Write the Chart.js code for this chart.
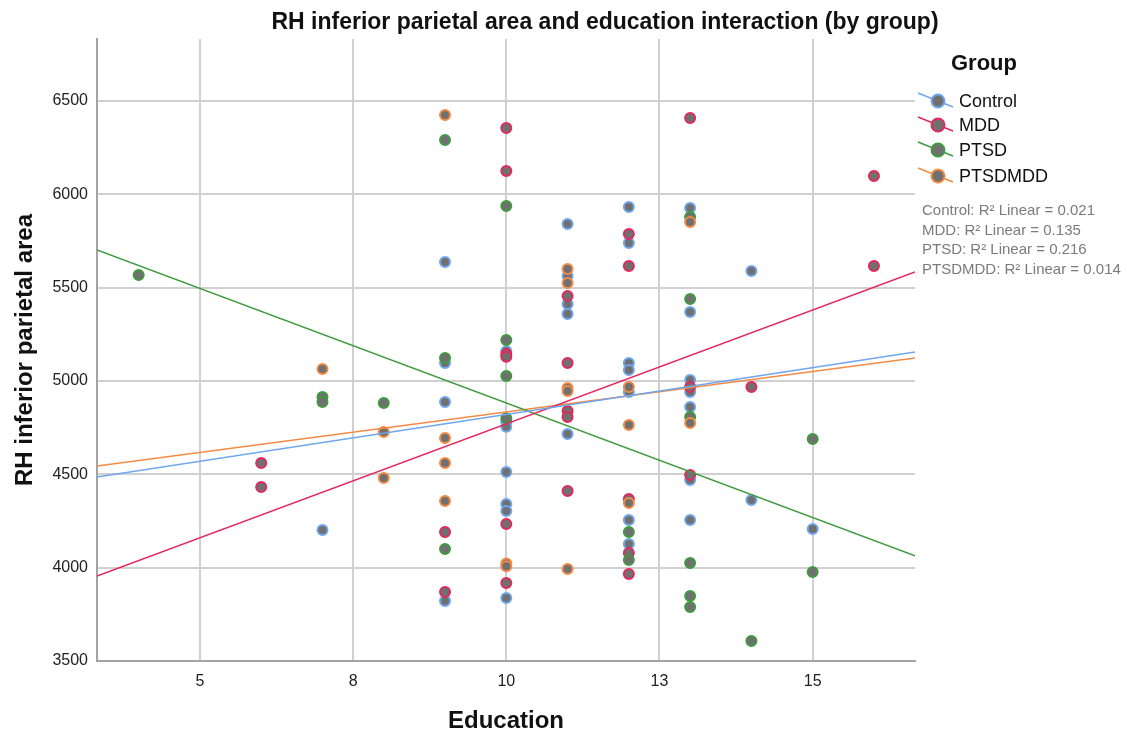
<!DOCTYPE html>
<html>
<head>
<meta charset="UTF-8">
<title>RH inferior parietal area and education interaction (by group)</title>
<script src="https://cdn.jsdelivr.net/npm/chart.js@4"></script>
<style>
    body {
        margin: 0;
        background: #ffffff;
        font-family: 'Liberation Sans', Arial, sans-serif;
    }
    .wrap {
        position: relative;
        width: 1127px;
        height: 736px;
    }
    canvas {
        position: absolute;
        left: 0;
        top: 0;
    }
    .title {
        position: absolute;
        top: 8px;
        left: 605px;
        transform: translateX(-50%);
        white-space: nowrap;
        font-weight: bold;
        font-size: 23px;
        line-height: 27px;
        color: #111;
    }
    .legend-title {
        position: absolute;
        left: 951px;
        top: 50px;
        font-weight: bold;
        font-size: 22px;
        line-height: 26px;
        color: #111;
    }
    .legend-item {
        position: absolute;
        left: 916px;
        height: 22px;
        display: flex;
        align-items: center;
        font-size: 18px;
        color: #111;
    }
    .legend-item svg {
        width: 40px;
        height: 22px;
        margin-right: 3px;
    }
    .fit-notes {
        position: absolute;
        left: 922px;
        top: 200px;
        font-size: 15px;
        line-height: 19.7px;
        color: #7b7b7b;
        white-space: nowrap;
    }
</style>
</head>
<body>
<div class="wrap">
    <canvas id="chart" width="1127" height="736"></canvas>
    <div class="title">RH inferior parietal area and education interaction (by group)</div>
    <div class="legend-title">Group</div>
    <div id="legend"></div>
    <div class="fit-notes" id="fitNotes"></div>
</div>

<script>
    // groups, colours and the R² values shown under the legend
    const groups = ['Control', 'MDD', 'PTSD', 'PTSDMDD'];
    const groupColors = ['#6fa6ee', '#e2285c', '#3f9b3f', '#f58a45'];
    const rSquared = ['0.021', '0.135', '0.216', '0.014'];

    // axis ranges and ticks
    const xRange = [3.32, 16.67];
    const yRange = [3500, 6832];
    const xTicks = [5, 7.5, 10, 12.5, 15];
    const yTicks = [3500, 4000, 4500, 5000, 5500, 6000, 6500];

    // observed points (education years, RH inferior parietal area)
    const controlEducation = [7, 9, 9, 9, 9, 10, 10, 10, 10, 10, 10, 10, 11, 11, 11, 11, 11,
        12, 12, 12, 12, 12, 12, 12, 13, 13, 13, 13, 13, 13, 13, 14, 14, 15];
    const controlArea = [4202, 5638, 5096, 4888, 3822, 5160, 4780, 4755, 4513, 4341, 4304, 3838,
        5841, 5563, 5413, 5359, 4716, 5932, 5739, 5096, 5059, 4941, 4255, 4127,
        5927, 5370, 5005, 4941, 4861, 4470, 4255, 5589, 4363, 4207];

    const mddEducation = [6, 6, 9, 9, 10, 10, 10, 10, 10, 10, 11, 11, 11, 11, 11,
        12, 12, 12, 12, 12, 13, 13, 13, 14, 16, 16];
    const mddArea = [4561, 4432, 4191, 3870, 6355, 6125, 5145, 5130, 4234, 3918,
        5455, 5096, 4839, 4807, 4411, 5788, 5616, 4368, 4079, 3966,
        6409, 4968, 4496, 4968, 6098, 5616];

    const ptsdEducation = [4, 7, 7, 8, 9, 9, 9, 10, 10, 10, 10, 12, 12,
        13, 13, 13, 13, 13, 13, 14, 15, 15];
    const ptsdArea = [5568, 4914, 4888, 4882, 6291, 5123, 4100, 5937, 5220, 5027, 4800, 4191, 4041,
        5879, 5439, 4807, 4025, 3848, 3789, 3607, 4689, 3977];

    const ptsdmddEducation = [7, 8, 8, 9, 9, 9, 9, 10, 10, 11, 11, 11, 11, 11, 12, 12, 12, 13, 13];
    const ptsdmddArea = [5064, 4727, 4480, 6425, 4695, 4561, 4357, 4022, 4008,
        5600, 5525, 4963, 4946, 3993, 4968, 4764, 4346, 5852, 4775];

    // linear fit lines, value at the left and right edge of the x range
    const controlFit = [4486, 5155];
    const mddFit = [3955, 5584];
    const ptsdFit = [5702, 4063];
    const ptsdmddFit = [4545, 5123];

    const educationByGroup = [controlEducation, mddEducation, ptsdEducation, ptsdmddEducation];
    const areaByGroup = [controlArea, mddArea, ptsdArea, ptsdmddArea];
    const fitByGroup = [controlFit, mddFit, ptsdFit, ptsdmddFit];

    const toPoints = (xs, ys) => xs.map((x, i) => ({x: x, y: ys[i]}));

    const datasets = [];
    groups.forEach((g, i) => {
        datasets.push({
            type: 'scatter',
            label: g,
            data: toPoints(educationByGroup[i], areaByGroup[i]),
            backgroundColor: '#707070',
            borderColor: groupColors[i],
            borderWidth: 2,
            pointRadius: 5,
            order: 4 - i
        });
    });
    groups.forEach((g, i) => {
        datasets.push({
            type: 'line',
            label: g + ' fit',
            data: toPoints(xRange, fitByGroup[i]),
            borderColor: groupColors[i],
            borderWidth: 1.5,
            pointRadius: 0,
            fill: false,
            order: 0
        });
    });

    Chart.defaults.font.family = "'Liberation Sans', Arial, sans-serif";
    Chart.defaults.color = '#222';

    new Chart(document.getElementById('chart'), {
        type: 'scatter',
        data: {datasets: datasets},
        options: {
            responsive: false,
            animation: false,
            layout: {padding: {left: 0, top: 39, right: 212, bottom: 0}},
            plugins: {
                legend: {display: false},
                tooltip: {enabled: false}
            },
            scales: {
                x: {
                    type: 'linear',
                    min: xRange[0],
                    max: xRange[1],
                    afterBuildTicks: axis => { axis.ticks = xTicks.map(v => ({value: v})); },
                    afterFit: scale => { scale.height = 75; },
                    ticks: {
                        font: {size: 16},
                        padding: 11,
                        callback: v => Math.round(v)
                    },
                    grid: {color: '#d0d0d0', lineWidth: 2, drawTicks: false},
                    border: {color: '#a3a3a3', width: 2},
                    title: {
                        display: true,
                        text: 'Education',
                        font: {size: 24, weight: 'bold'},
                        color: '#111',
                        padding: {top: 0, bottom: 0}
                    }
                },
                y: {
                    type: 'linear',
                    min: yRange[0],
                    max: yRange[1],
                    afterBuildTicks: axis => { axis.ticks = yTicks.map(v => ({value: v})); },
                    afterFit: scale => { scale.width = 97; },
                    ticks: {
                        font: {size: 16},
                        padding: 9,
                        callback: v => String(v)
                    },
                    grid: {color: '#d0d0d0', lineWidth: 2, drawTicks: false},
                    border: {color: '#a3a3a3', width: 2},
                    title: {
                        display: true,
                        text: 'RH inferior parietal area',
                        font: {size: 24, weight: 'bold'},
                        color: '#111',
                        padding: {top: 11, bottom: 0}
                    }
                }
            }
        }
    });

    // legend and fit notes
    const legendTops = [90, 114, 139, 165];
    const legend = document.getElementById('legend');
    groups.forEach((g, i) => {
        const c = groupColors[i];
        legend.innerHTML += `<div class="legend-item" style="top:${legendTops[i]}px">` +
            `<svg viewBox="0 0 40 22"><line x1="2" y1="3" x2="37" y2="17" stroke="${c}" stroke-width="1.5"/>` +
            `<circle cx="22" cy="11" r="6.5" fill="#707070" stroke="${c}" stroke-width="2"/></svg>${g}</div>`;
    });
    document.getElementById('fitNotes').innerHTML =
        groups.map((g, i) => `${g}: R² Linear = ${rSquared[i]}`).join('<br>');
</script>
</body>
</html>
